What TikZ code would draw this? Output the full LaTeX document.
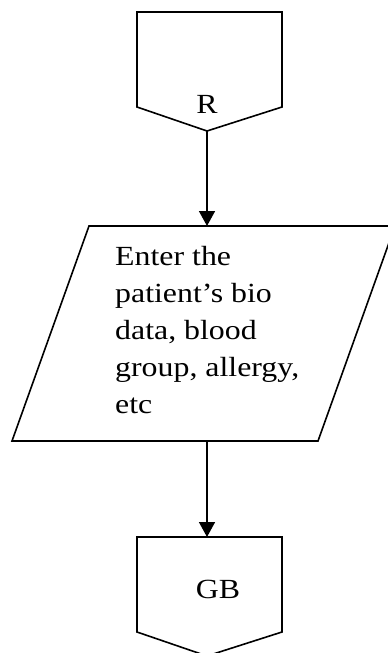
\documentclass[tikz,border=0pt]{standalone}
\usepackage{fontspec}
\setmainfont[FakeStretch=1.15]{Liberation Serif}
\usetikzlibrary{arrows.meta}
\begin{document}
\begin{tikzpicture}[x=1pt,y=-1pt,
  outline/.style={draw=black,line width=1.6pt,line join=miter},
  flow/.style={draw=black,line width=1.6pt,-{Triangle[width=16pt,length=15pt]}},
  lbl/.style={inner sep=0pt,font=\fontsize{27.7}{37}\selectfont}]
\clip (0,0) rectangle (388,653);
\useasboundingbox (0,0) rectangle (388,653);

% off-page connector "R"
\coordinate (rTL) at (137,12);
\coordinate (rTR) at (282,12);
\coordinate (rBR) at (282,107);
\coordinate (rTip) at (207,131);
\coordinate (rBL) at (137,107);
\draw[outline] (rTL) -- (rTR) -- (rBR) -- (rTip) -- (rBL) -- cycle;
\node[lbl,anchor=base] (rText) at (207,113) {R};

% input parallelogram
\coordinate (pTL) at (89,226);
\coordinate (pTR) at (395,226);
\coordinate (pBR) at (318,441);
\coordinate (pBL) at (12,441);
\draw[outline] (pTL) -- (pTR) -- (pBR) -- (pBL) -- cycle;
\coordinate (pIn) at (207,226);
\coordinate (pOut) at (207,441);
\node[lbl,anchor=base west] (pText) at (115,265)
  {\parbox[t]{260pt}{\raggedright\fontsize{27.7}{37}\selectfont
   Enter the\\patient’s bio\\data, blood\\group, allergy,\\etc}};

% off-page connector "GB"
\coordinate (gTL) at (137,537);
\coordinate (gTR) at (282,537);
\coordinate (gBR) at (282,632);
\coordinate (gTip) at (207,656);
\coordinate (gBL) at (137,632);
\coordinate (gIn) at (207,537);
\draw[outline] (gTL) -- (gTR) -- (gBR) -- (gTip) -- (gBL) -- cycle;
\node[lbl,anchor=base] (gText) at (218,598) {GB};

% connectors
\draw[flow] (rTip) -- (pIn);
\draw[flow] (pOut) -- (gIn);
\end{tikzpicture}
\end{document}
